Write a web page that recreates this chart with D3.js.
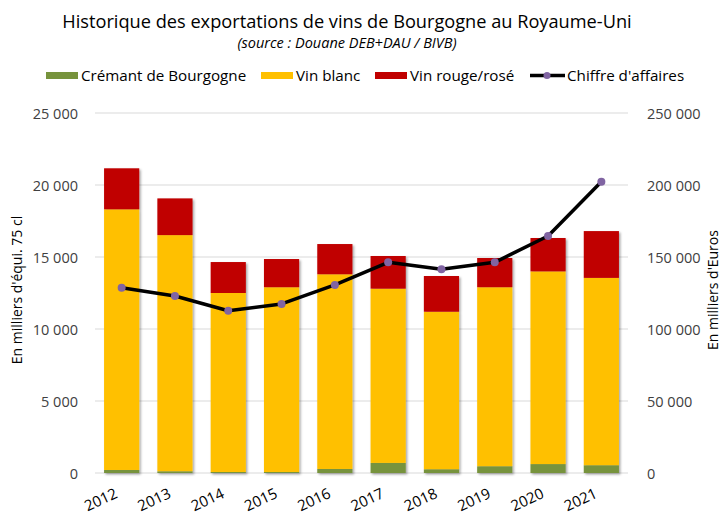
<!DOCTYPE html>
<meta charset="utf-8">
<style>
    body { margin: 0; background: #fff; }
    svg text { font-family: 'Open Sans', 'Noto Sans', sans-serif; fill: #262626; }
</style>
<svg width="724" height="517"></svg>
<script src="https://d3js.org/d3.v7.min.js"></script>
<script>

    var years = ["2012", "2013", "2014", "2015", "2016", "2017", "2018", "2019", "2020", "2021"];
    var cremant = [210, 120, 70, 70, 280, 700, 260, 470, 620, 540];
    var vinBlanc = [18100, 16400, 12430, 12830, 13520, 12100, 10940, 12430, 13380, 13010];
    var vinRouge = [2850, 2550, 2150, 1960, 2100, 2270, 2480, 2030, 2320, 3250];
    var chiffre = [128700, 122900, 112700, 117400, 130600, 146300, 141500, 146300, 164600, 202300];
    var leftTicks = [0, 5000, 10000, 15000, 20000, 25000];
    var rightTicks = [0, 50000, 100000, 150000, 200000, 250000];

    var seriesNames = ["Crémant de Bourgogne", "Vin blanc", "Vin rouge/rosé"];
    var colors = ["#77933c", "#ffc000", "#c00000"];

    var svg = d3.select("svg");
    var plotLeft = 95, plotRight = 628, plotTop = 113, plotBottom = 473;

    var x = d3.scaleBand().domain(years).range([plotLeft, plotRight]).paddingInner(0.34).paddingOuter(0.17);
    var y = d3.scaleLinear().domain([0, 25000]).range([plotBottom, plotTop]);
    var y2 = d3.scaleLinear().domain([0, 250000]).range([plotBottom, plotTop]);

    var fmt = function (d) { return d3.format(",")(d).replace(/,/g, " "); };

    // shadow for the bars
    var defs = svg.append("defs");
    var f = defs.append("filter").attr("id", "shadow").attr("x", "-20%").attr("y", "-20%").attr("width", "140%").attr("height", "140%");
    f.append("feDropShadow").attr("dx", 1.5).attr("dy", 1.5).attr("stdDeviation", 1.2).attr("flood-color", "#000").attr("flood-opacity", 0.35);

    // gridlines
    svg.append("g").selectAll("line").data(leftTicks).enter().append("line")
        .attr("x1", plotLeft).attr("x2", plotRight)
        .attr("y1", function (d) { return y(d); }).attr("y2", function (d) { return y(d); })
        .style("stroke", "#d9d9d9").style("stroke-width", 1);

    // left axis
    var axL = svg.append("g").attr("transform", "translate(" + (plotLeft - 14) + ",0)")
        .call(d3.axisLeft(y).tickValues(leftTicks).tickFormat(fmt).tickSize(0));
    axL.select(".domain").remove();
    axL.selectAll("text").style("font-size", "14.5px").style("fill", "#404040").attr("dy", "0.35em");

    // right axis
    var axR = svg.append("g").attr("transform", "translate(" + (plotRight + 16) + ",0)")
        .call(d3.axisRight(y2).tickValues(rightTicks).tickFormat(fmt).tickSize(0));
    axR.select(".domain").remove();
    axR.selectAll("text").style("font-size", "14.5px").style("fill", "#404040").attr("dy", "0.35em");

    // stacked bars
    var rows = years.map(function (yr, i) {
        return { year: yr, c: cremant[i], b: vinBlanc[i], r: vinRouge[i] };
    });
    var stack = d3.stack().keys(["c", "b", "r"])(rows);

    var barG = svg.append("g").attr("filter", "url(#shadow)");
    barG.selectAll("g").data(stack).enter().append("g")
        .style("fill", function (d, i) { return colors[i]; })
        .selectAll("rect").data(function (d) { return d; }).enter().append("rect")
        .attr("x", function (d) { return x(d.data.year); })
        .attr("width", x.bandwidth())
        .attr("y", function (d) { return y(d[1]); })
        .attr("height", function (d) { return y(d[0]) - y(d[1]); });

    // x labels (end anchored at the bar centre, like Excel's slanted labels)
    svg.append("g").selectAll("text").data(years).enter().append("text")
        .attr("transform", function (d) {
            return "translate(" + (x(d) + x.bandwidth() / 2 - 3) + "," + 497 + ") rotate(-25)";
        })
        .attr("text-anchor", "end")
        .style("font-size", "15px").style("fill", "#000")
        .text(function (d) { return d; });

    // line
    var line = d3.line()
        .x(function (d, i) { return x(years[i]) + x.bandwidth() / 2; })
        .y(function (d) { return y2(d); });
    svg.append("path").datum(chiffre).attr("d", line)
        .style("fill", "none").style("stroke", "#000").style("stroke-width", 3.5)
        .style("stroke-linejoin", "round");
    svg.append("g").selectAll("circle").data(chiffre).enter().append("circle")
        .attr("cx", function (d, i) { return x(years[i]) + x.bandwidth() / 2; })
        .attr("cy", function (d) { return y2(d); })
        .attr("r", 4)
        .style("fill", "#8064a2");

    // titles
    svg.append("text").attr("x", 347).attr("y", 28).attr("text-anchor", "middle")
        .style("font-size", "18.2px").style("fill", "#000")
        .text("Historique des exportations de vins de Bourgogne au Royaume-Uni");
    svg.append("text").attr("x", 347).attr("y", 48).attr("text-anchor", "middle")
        .style("font-size", "14.5px").style("font-style", "italic").style("fill", "#000")
        .text("(source : Douane DEB+DAU / BIVB)");

    svg.append("text").attr("transform", "translate(22,290) rotate(-90)").attr("text-anchor", "middle")
        .style("font-size", "14px").style("fill", "#000")
        .text("En milliers d'équi. 75 cl");
    svg.append("text").attr("transform", "translate(718,290) rotate(-90)").attr("text-anchor", "middle")
        .style("font-size", "14px").style("fill", "#000")
        .text("En milliers d'Euros");

    // legend
    var legX = [46, 261, 375];
    seriesNames.forEach(function (name, i) {
        svg.append("rect").attr("x", legX[i]).attr("y", 72).attr("width", 32).attr("height", 7).style("fill", colors[i]);
        svg.append("text").attr("x", legX[i] + 35).attr("y", 81).style("font-size", "15.2px").style("fill", "#000").text(name);
    });
    svg.append("line").attr("x1", 530).attr("x2", 565).attr("y1", 75.5).attr("y2", 75.5)
        .style("stroke", "#000").style("stroke-width", 3.5);
    svg.append("circle").attr("cx", 547).attr("cy", 75.5).attr("r", 3.5).style("fill", "#8064a2");
    svg.append("text").attr("x", 567).attr("y", 81).style("font-size", "15.2px").style("fill", "#000").text("Chiffre d'affaires");

</script>
